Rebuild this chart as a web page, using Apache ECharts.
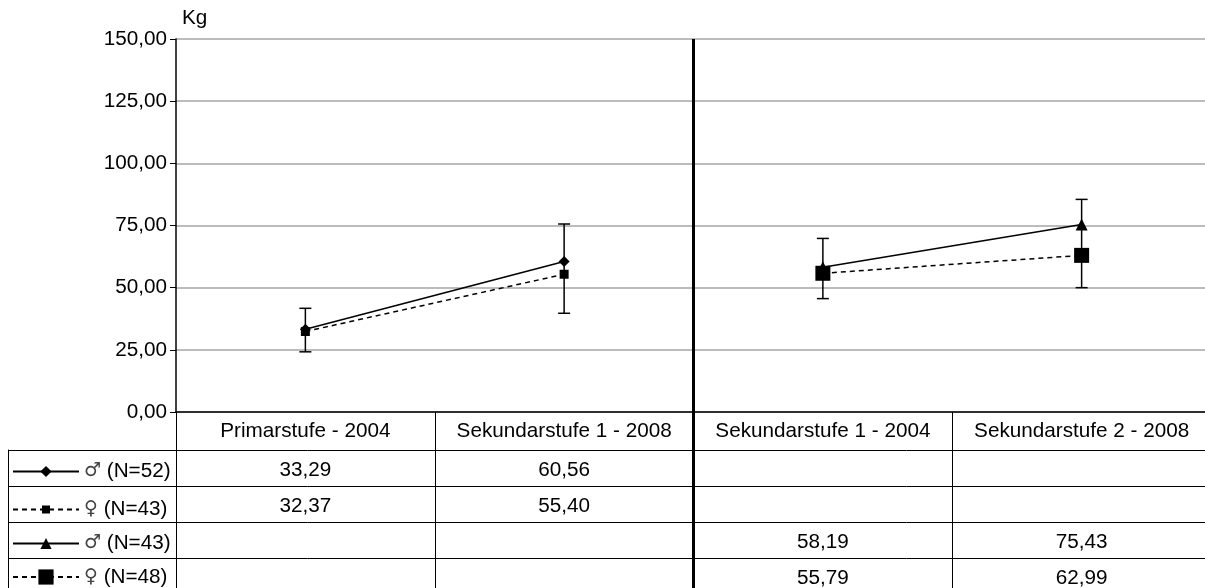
<!DOCTYPE html>
<html>
<head>
<meta charset="utf-8">
<script src="https://cdn.jsdelivr.net/npm/echarts@6/dist/echarts.min.js"></script>
<style>
  html, body { margin: 0; padding: 0; background: #fff; }
  #chart { width: 1205px; height: 588px; }
</style>
</head>
<body>
<div id="chart"></div>
<script>
// Categories (school level and survey year)
const categories = ['Primarstufe - 2004', 'Sekundarstufe 1 - 2008', 'Sekundarstufe 1 - 2004', 'Sekundarstufe 2 - 2008'];

// Row headers of the data table: sex symbol and sample size
const sexSymbols = ['\u2642', '\u2640', '\u2642', '\u2640'];
const sampleSizes = [52, 43, 43, 48];
const seriesNames = sexSymbols.map((s, i) => s + ' (N=' + sampleSizes[i] + ')');

// Mean body weight (kg)
const boysCohortA  = [33.29, 60.56, null, null];
const girlsCohortA = [32.37, 55.40, null, null];
const boysCohortB  = [null, null, 58.19, 75.43];
const girlsCohortB = [null, null, 55.79, 62.99];

// Error bar ends per category (kg)
const errUpper = [41.7, 75.6, 69.8, 85.5];
const errLower = [24.2, 39.7, 45.6, 50.0];

// Value axis ticks
const yMin = 0, yMax = 150, yStep = 25;

const FONT = "'Liberation Sans', Arial, sans-serif";
const FS = 20.7;
const fmt = v => v.toFixed(2).replace('.', ',');

const seriesValues = [boysCohortA, girlsCohortA, boysCohortB, girlsCohortB];
const seriesStyles = [
  { symbol: 'diamond',  symbolSize: 11, dash: 'solid', legendH: 14 },
  { symbol: 'rect',     symbolSize: 9,  dash: [5, 4],  legendH: 10 },
  { symbol: 'triangle', symbolSize: 12, dash: 'solid', legendH: 14 },
  { symbol: 'rect',     symbolSize: 15, dash: [5, 4],  legendH: 19 }
];

// Plot / table geometry
const plotLeft = 176, plotTop = 39, plotH = 373, plotRight = -6;
const tableTop = 450, rowH = 36;

// Cells of the data table: [column, row, value]
const tableCells = [];
seriesValues.forEach((arr, r) => arr.forEach((v, c) => { if (v != null) tableCells.push([c, r, v]); }));

const chart = echarts.init(document.getElementById('chart'), null, { renderer: 'canvas' });

const option = {
  animation: false,
  backgroundColor: '#fff',
  textStyle: { fontFamily: FONT, color: '#000' },
  grid: [
    // 0: plot area
    { left: plotLeft, top: plotTop, right: plotRight, height: plotH, outerBoundsMode: 'none' },
    // 1: divider between the two cohorts, spanning plot and table (right half only)
    { left: plotLeft + (1205 - plotRight - plotLeft) / 2, top: plotTop, right: plotRight, height: 555, outerBoundsMode: 'none' },
    // 2: table rows incl. row header column
    { left: 8, top: tableTop, right: plotRight, height: rowH * 4, outerBoundsMode: 'none' },
    // 3: table value columns
    { left: plotLeft, top: tableTop, right: plotRight, height: rowH * 4, outerBoundsMode: 'none' }
  ],
  legend: seriesNames.map((n, i) => ({
    data: [n],
    left: 12,
    top: tableTop + rowH * i + rowH / 2 - seriesStyles[i].legendH / 2,
    orient: 'vertical',
    itemWidth: 66,
    itemHeight: seriesStyles[i].legendH,
    itemGap: 0,
    padding: 0,
    selectedMode: false,
    formatter: name => '{g|' + name.charAt(0) + '}' + name.slice(1),
    textStyle: {
      fontSize: FS, color: '#000', fontFamily: FONT,
      rich: { g: { fontSize: 19, fontFamily: "'DejaVu Sans'", color: '#444' } }
    }
  })),
  xAxis: [
    {
      gridIndex: 0, type: 'category', data: categories, boundaryGap: true,
      axisLine: { show: true, lineStyle: { color: '#000', width: 1.5 } },
      axisTick: { show: true, length: 38, interval: 0, lineStyle: { color: '#000', width: 1 } },
      axisLabel: { show: true, interval: 0, margin: 9, fontSize: FS, color: '#000', fontFamily: FONT },
      splitLine: { show: false }
    },
    {
      gridIndex: 1, type: 'category', data: categories.slice(2), boundaryGap: true,
      axisLine: { show: false }, axisTick: { show: false }, axisLabel: { show: false },
      splitLine: { show: true, interval: (i) => i === 0, lineStyle: { color: '#000', width: 3 } }
    },
    { gridIndex: 2, type: 'value', min: 0, max: 1, show: false },
    {
      gridIndex: 3, type: 'category', data: categories, boundaryGap: true,
      axisLine: { show: false }, axisTick: { show: false }, axisLabel: { show: false },
      splitLine: { show: true, interval: 0, lineStyle: { color: '#000', width: 1 } }
    }
  ],
  yAxis: [
    {
      gridIndex: 0, type: 'value', min: yMin, max: yMax, interval: yStep,
      name: 'Kg', nameLocation: 'end', nameGap: 10,
      nameTextStyle: { fontSize: FS, color: '#000', align: 'left', padding: [0, 0, 0, 6], fontFamily: FONT },
      axisLine: { show: true, lineStyle: { color: '#000', width: 1.5 } },
      axisTick: { show: true, length: 6, lineStyle: { color: '#000', width: 1 } },
      axisLabel: { margin: 9, fontSize: FS, color: '#000', fontFamily: FONT, formatter: v => fmt(v) },
      splitLine: { show: true, lineStyle: { color: '#a6a6a6', width: 1.5 } }
    },
    { gridIndex: 1, type: 'value', show: false, min: 0, max: 1 },
    {
      gridIndex: 2, type: 'category', data: seriesNames, inverse: true, boundaryGap: true,
      axisLine: { show: true, lineStyle: { color: '#000', width: 1 } },
      axisTick: { show: false }, axisLabel: { show: false },
      splitLine: { show: true, interval: 0, lineStyle: { color: '#000', width: 1 } }
    },
    {
      gridIndex: 3, type: 'category', data: seriesNames, inverse: true, boundaryGap: true,
      axisLine: { show: false }, axisTick: { show: false }, axisLabel: { show: false },
      splitLine: { show: false }
    }
  ],
  series: [
    // error bars
    {
      type: 'custom', xAxisIndex: 0, yAxisIndex: 0, z: 1,
      data: categories.map((c, i) => [i, errLower[i], errUpper[i]]),
      encode: { x: 0, y: [1, 2] },
      renderItem: (params, api) => {
        const x = api.value(0);
        const lo = api.coord([x, api.value(1)]);
        const hi = api.coord([x, api.value(2)]);
        const hw = 6;
        const style = { stroke: '#000', lineWidth: 1.5 };
        return {
          type: 'group',
          children: [
            { type: 'line', shape: { x1: lo[0], y1: lo[1], x2: hi[0], y2: hi[1] }, style },
            { type: 'line', shape: { x1: lo[0] - hw, y1: lo[1], x2: lo[0] + hw, y2: lo[1] }, style },
            { type: 'line', shape: { x1: hi[0] - hw, y1: hi[1], x2: hi[0] + hw, y2: hi[1] }, style }
          ]
        };
      }
    },
    // mean lines
    ...seriesValues.map((arr, i) => ({
      name: seriesNames[i],
      type: 'line', xAxisIndex: 0, yAxisIndex: 0, z: 3,
      data: arr,
      connectNulls: false,
      symbol: seriesStyles[i].symbol,
      symbolSize: seriesStyles[i].symbolSize,
      showAllSymbol: true,
      itemStyle: { color: '#000' },
      lineStyle: { color: '#000', width: 1.5, type: seriesStyles[i].dash }
    })),
    // data table values
    {
      type: 'custom', xAxisIndex: 3, yAxisIndex: 3, z: 2,
      data: tableCells,
      encode: { x: 0, y: 1 },
      renderItem: (params, api) => {
        const pt = api.coord([api.value(0), api.value(1)]);
        return {
          type: 'text', x: pt[0], y: pt[1] + 2,
          style: { text: fmt(api.value(2)), align: 'center', verticalAlign: 'middle', fontSize: FS, fontFamily: FONT, fill: '#000' }
        };
      }
    }
  ]
};

chart.setOption(option);
</script>
</body>
</html>
